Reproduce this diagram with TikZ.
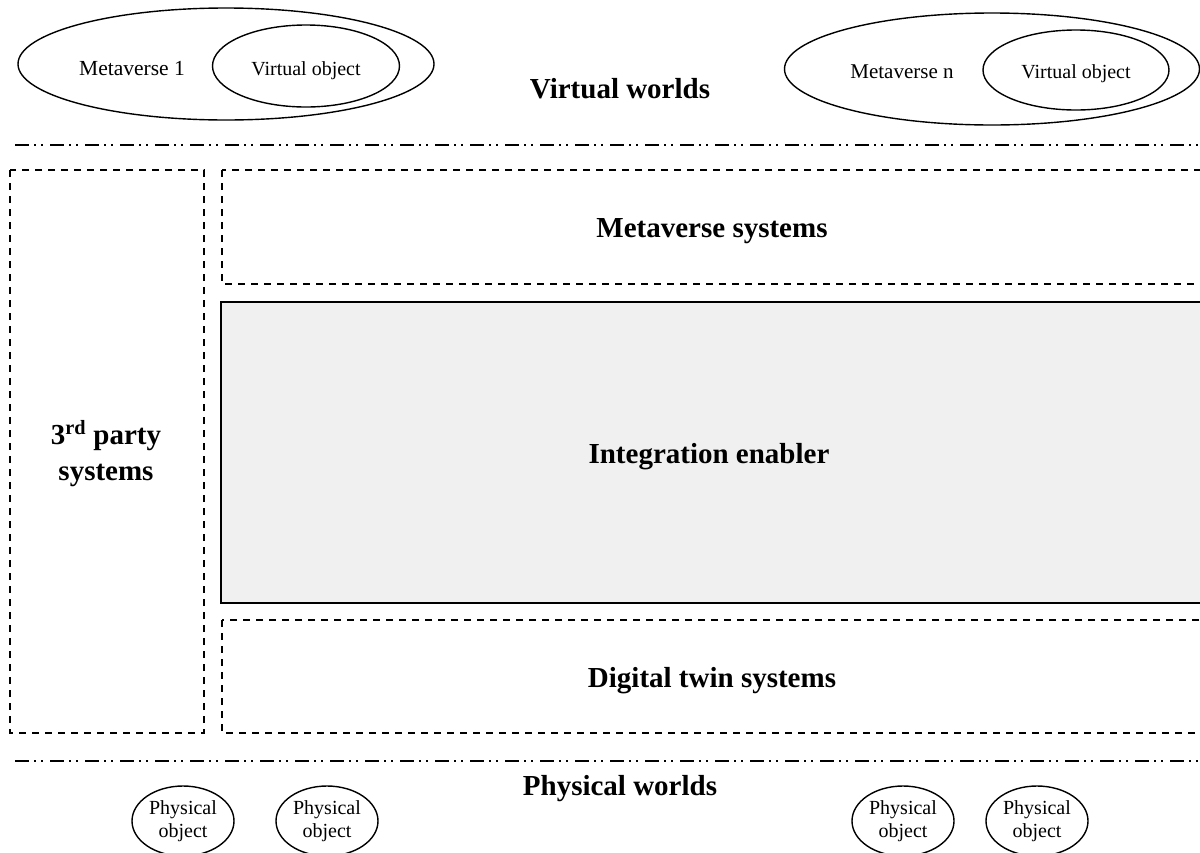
\documentclass[tikz,border=0pt]{standalone}
\usepackage{fontspec}
\setmainfont{Liberation Serif}
\usetikzlibrary{shapes.geometric}
\begin{document}
\begin{tikzpicture}[x=1pt,y=-1pt,
  oval/.style={draw, ellipse, line width=1.4pt, inner sep=0pt},
  lbl/.style={font=\fontsize{20}{22}\selectfont, inner sep=0pt, anchor=base},
  big/.style={font=\fontsize{29}{35}\selectfont\bfseries, inner sep=0pt, anchor=base},
  dbox/.style={draw, line width=1.6pt, dash pattern=on 7pt off 6pt},
  sbox/.style={draw, line width=1.6pt, fill=black!6},
  divider/.style={line width=1.8pt, dash pattern=on 14pt off 5pt on 2pt off 5pt on 2pt off 7pt},
  phys/.style={draw, ellipse, line width=1.4pt, inner sep=0pt, minimum width=102pt, minimum height=70pt, align=center, font=\fontsize{20}{23}\selectfont}]
\useasboundingbox (0,0) rectangle (1200,852);
\clip (0,0) rectangle (1200,852);
% virtual worlds
\node[oval, minimum width=416pt, minimum height=112pt] (m1) at (226,64) {};
\node[oval, minimum width=187pt, minimum height=82pt] (v1) at (306,66) {};
\node[lbl] (v1t) at (306,75) {Virtual object};
\node[lbl, font=\fontsize{21.5}{22}\selectfont] (m1t) at (132,75) {Metaverse 1};
\node[oval, minimum width=415pt, minimum height=112pt] (mn) at (992,69) {};
\node[oval, minimum width=186pt, minimum height=80pt] (vn) at (1076,70) {};
\node[lbl] (vnt) at (1076,78) {Virtual object};
\node[lbl, font=\fontsize{21}{22}\selectfont] (mnt) at (902,78) {Metaverse n};
\node[big] (vw) at (620,98) {Virtual worlds};
% dividers
\coordinate (d1a) at (15,145);
\coordinate (d1b) at (1205,145);
\draw[divider] (d1a) -- (d1b);
\coordinate (d2a) at (15,761);
\coordinate (d2b) at (1205,761);
\draw[divider] (d2a) -- (d2b);
% boxes
\draw[dbox] (10,170) rectangle (204,733);
\node[big] (tp1) at (106,444) {3\textsuperscript{rd} party};
\node[big] (tp2) at (106,480) {systems};
\draw[dbox] (222,170) rectangle (1215,284);
\node[big] (ms) at (712,237) {Metaverse systems};
\draw[sbox] (221,302) rectangle (1215,603);
\node[big] (ie) at (709,463) {Integration enabler};
\draw[dbox] (222,620) rectangle (1215,733);
\node[big] (dt) at (712,687) {Digital twin systems};
% physical worlds
\node[phys] (p1) at (183,821) {Physical\\object};
\node[phys] (p2) at (327,821) {Physical\\object};
\node[phys] (p3) at (903,821) {Physical\\object};
\node[phys] (p4) at (1037,821) {Physical\\object};
\node[big] (pw) at (620,795) {Physical worlds};
\end{tikzpicture}
\end{document}
